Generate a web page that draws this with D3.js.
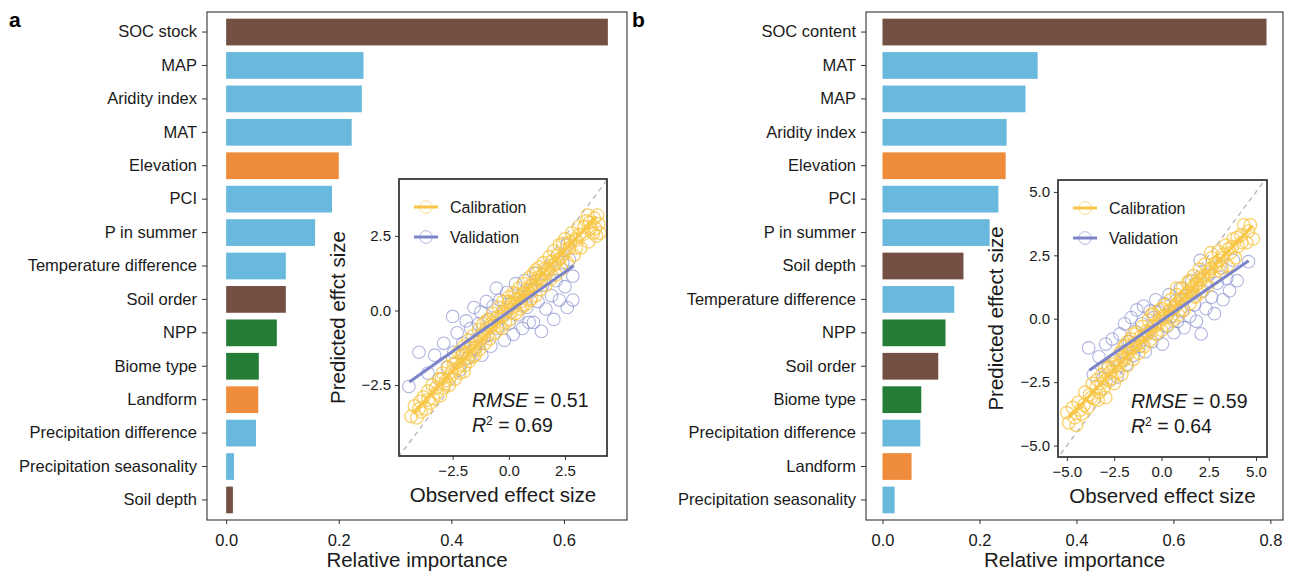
<!DOCTYPE html>
<html>
<head>
<meta charset="utf-8">
<script src="https://cdn.jsdelivr.net/npm/d3@7"></script>
<style>
  body { margin: 0; background: #fff; }
  svg { font-family: "Liberation Sans", Arial, Helvetica, sans-serif; }
</style>
</head>
<body>
<svg id="chart" width="1298" height="573"></svg>
<script>
// ---- data ----
const namesA = ["SOC stock", "MAP", "Aridity index", "MAT", "Elevation", "PCI", "P in summer",
  "Temperature difference", "Soil order", "NPP", "Biome type", "Landform",
  "Precipitation difference", "Precipitation seasonality", "Soil depth"];
const valuesA = [0.678, 0.244, 0.241, 0.223, 0.200, 0.188, 0.158, 0.106, 0.106, 0.090, 0.058, 0.057, 0.053, 0.014, 0.012];
const groupsA = ["soil", "climate", "climate", "climate", "topo", "climate", "climate",
  "climate", "soil", "veg", "veg", "topo", "climate", "climate", "soil"];

const namesB = ["SOC content", "MAT", "MAP", "Aridity index", "Elevation", "PCI", "P in summer",
  "Soil depth", "Temperature difference", "NPP", "Soil order", "Biome type",
  "Precipitation difference", "Landform", "Precipitation seasonality"];
const valuesB = [0.792, 0.320, 0.295, 0.256, 0.254, 0.239, 0.221, 0.167, 0.148, 0.130, 0.115, 0.080, 0.078, 0.060, 0.025];
const groupsB = ["soil", "climate", "climate", "climate", "topo", "climate", "climate",
  "soil", "climate", "veg", "soil", "veg", "climate", "topo", "climate"];

const ticksA = [0, 0.2, 0.4, 0.6];
const ticksB = [0, 0.2, 0.4, 0.6, 0.8];

// observed vs predicted effect size, panel a
const calibA = [[-4.35,-3.55],[-4.2,-3.2],[-4.1,-3.6],[-3.95,-3.05],[-3.9,-3.4],[-3.8,-2.9],[-3.7,-3.3],[-3.6,-2.7],
  [-3.5,-3.1],[-3.4,-2.5],[-3.35,-2.95],[-3.2,-2.75],[-3.1,-2.3],[-3.05,-2.85],[-2.95,-2.1],[-2.9,-2.6],[-2.8,-2.35],
  [-2.7,-1.9],[-2.65,-2.5],[-2.55,-2.05],[-2.5,-1.6],[-2.4,-2.3],[-2.35,-1.75],[-2.25,-1.4],[-2.2,-2.1],[-2.1,-1.55],
  [-2.0,-1.2],[-1.95,-1.85],[-1.9,-1.45],[-1.8,-1.0],[-1.75,-1.7],[-1.65,-1.25],[-1.6,-0.85],[-1.5,-1.5],[-1.45,-1.05],
  [-1.35,-0.65],[-1.3,-1.3],[-1.2,-0.8],[-1.15,-0.45],[-1.05,-1.1],[-1.0,-0.6],[-0.9,-0.3],[-0.85,-0.95],[-0.75,-0.4],
  [-0.7,-0.1],[-0.6,-0.75],[-0.55,-0.25],[-0.45,0.1],[-0.4,-0.55],[-0.3,-0.05],[-0.25,0.3],[-0.15,-0.4],[-0.1,0.1],
  [0.0,0.45],[0.05,-0.3],[0.15,0.25],[0.2,0.6],[0.3,-0.1],[0.35,0.4],[0.45,0.75],[0.5,0.05],[0.6,0.55],[0.65,0.9],
  [0.75,0.2],[0.8,0.7],[0.9,1.1],[0.95,0.35],[1.05,0.85],[1.1,1.25],[1.2,0.5],[1.25,1.0],[1.35,1.45],[1.4,0.7],
  [1.5,1.2],[1.55,1.6],[1.65,0.85],[1.7,1.35],[1.8,1.8],[1.85,1.05],[1.95,1.5],[2.0,2.0],[2.1,1.2],[2.2,1.7],
  [2.25,2.2],[2.35,1.4],[2.45,1.9],[2.5,2.4],[2.6,1.6],[2.7,2.1],[2.8,2.6],[2.9,1.85],[3.0,2.35],[3.1,2.8],
  [3.2,2.1],[3.3,2.55],[3.45,3.0],[3.55,2.3],[3.65,2.75],[3.8,3.1],[3.9,2.5],[4.0,2.9],[3.75,2.6],
  [-3.0,-2.3],[-2.85,-2.45],[-2.6,-2.2],[-2.45,-1.8],[-2.3,-1.95],[-2.15,-1.85],[-2.05,-1.45],[-1.85,-1.6],[-1.7,-1.15],
  [-1.55,-1.35],[-1.4,-1.2],[-1.25,-0.95],[-1.1,-0.75],[-0.95,-0.85],[-0.8,-0.55],[-0.65,-0.45],[-0.5,-0.5],[-0.35,-0.2],
  [-0.2,-0.15],[-0.05,0.0],[0.1,-0.05],[0.25,0.15],[0.4,0.35],[0.55,0.3],[0.7,0.6],[0.85,0.6],[1.0,0.85],[1.15,0.8],
  [1.3,1.1],[1.45,1.05],[1.6,1.4],[1.75,1.3],[1.9,1.65],[2.05,1.55],[2.15,1.85],[2.3,1.75],[2.55,2.05],[2.75,2.3],
  [2.95,2.4],[3.15,2.55],[3.35,2.8],[3.6,2.95],[-3.6,-3.0],[-3.25,-2.6],[-4.0,-3.3],[-1.0,-0.35],[0.3,0.55],[1.2,1.35],
  [-1.6,-1.55],[0.6,0.15],[2.4,2.25],[-2.0,-2.05],[1.0,0.4],[-0.3,-0.6],[0.0,0.3],[3.0,2.1],[3.85,2.75],[3.95,3.2],
  [4.05,2.6],[3.5,3.2]];
const validA = [[-4.45,-2.55],[-4.0,-1.4],[-3.6,-2.1],[-3.3,-1.5],[-3.1,-2.3],[-2.9,-1.1],[-2.75,-1.9],[-2.5,-0.2],
  [-2.45,-1.4],[-2.3,-0.75],[-2.2,-2.0],[-2.05,-1.1],[-1.9,-0.35],[-1.8,-1.6],[-1.7,-0.6],[-1.55,0.1],[-1.5,-1.25],
  [-1.35,-0.45],[-1.25,-0.05],[-1.2,-1.5],[-1.1,-0.9],[-1.0,0.3],[-0.9,-0.3],[-0.8,-1.2],[-0.7,0.15],[-0.55,0.75],
  [-0.5,-0.6],[-0.4,0.35],[-0.3,-0.2],[-0.2,-1.0],[-0.1,0.6],[0.0,-0.45],[0.1,0.2],[0.2,-0.8],[0.3,0.9],[0.4,-0.15],
  [0.5,0.45],[0.6,-0.6],[0.7,1.0],[0.8,0.1],[0.9,-0.4],[1.0,0.7],[1.1,-0.4],[1.2,1.25],[1.3,0.3],[1.45,-0.7],
  [1.5,0.85],[1.65,0.05],[1.75,1.4],[1.9,0.5],[2.0,-0.3],[2.1,1.0],[2.25,0.35],[2.4,1.6],[2.5,0.8],[2.6,0.1],
  [2.7,1.7],[2.85,0.35],[2.85,1.15],[2.6,2.2]];
// fitted lines, [start, end]
const calibFitA = [[-4.26, -3.44], [3.9, 3.15]];
const validFitA = [[-4.43, -2.40], [2.89, 1.50]];

// panel b
const calibB = [[-5.0,-3.7],[-4.9,-4.1],[-4.7,-3.5],[-4.5,-4.2],[-4.4,-3.3],[-4.2,-3.75],[-4.05,-2.9],[-3.9,-3.5],
  [-3.8,-3.0],[-3.65,-2.55],[-3.55,-3.15],[-3.4,-2.4],[-3.3,-2.9],[-3.15,-2.2],[-3.05,-2.75],[-2.95,-3.1],[-2.85,-1.95],
  [-2.75,-2.45],[-2.6,-1.8],[-2.5,-2.55],[-2.4,-1.6],[-2.3,-2.1],[-2.2,-1.35],[-2.1,-2.2],[-2.0,-1.5],[-1.9,-1.05],
  [-1.8,-1.85],[-1.7,-1.2],[-1.6,-0.8],[-1.5,-1.6],[-1.4,-0.95],[-1.3,-0.55],[-1.2,-1.35],[-1.1,-0.7],[-1.0,-0.3],
  [-0.9,-1.1],[-0.8,-0.5],[-0.7,-0.05],[-0.6,-0.85],[-0.5,-0.3],[-0.4,0.15],[-0.3,-0.6],[-0.2,-0.1],[-0.1,0.35],
  [0.0,-0.45],[0.1,0.1],[0.2,0.55],[0.3,-0.25],[0.4,0.3],[0.5,0.75],[0.6,-0.05],[0.7,0.5],[0.8,0.95],[0.9,0.15],
  [1.0,0.75],[1.1,1.2],[1.2,0.35],[1.3,0.95],[1.4,1.45],[1.5,0.6],[1.6,1.15],[1.7,1.7],[1.8,0.85],[1.9,1.4],
  [2.0,1.95],[2.1,1.05],[2.2,1.6],[2.3,2.15],[2.45,1.3],[2.55,1.85],[2.65,2.4],[2.8,1.6],[2.9,2.1],[3.0,2.65],
  [3.15,1.85],[3.25,2.4],[3.4,2.9],[3.5,2.1],[3.65,2.6],[3.8,3.15],[3.9,2.4],[4.05,2.85],[4.2,3.3],[4.35,3.7],
  [4.5,3.0],[4.85,3.15],[4.6,3.45],
  [-4.6,-3.9],[-4.3,-3.6],[-3.7,-3.1],[-3.45,-2.7],[-3.2,-2.55],[-2.9,-2.4],[-2.7,-2.1],[-2.5,-1.9],[-2.3,-1.85],
  [-2.15,-1.65],[-1.95,-1.6],[-1.75,-1.35],[-1.55,-1.15],[-1.35,-1.05],[-1.15,-0.95],[-0.95,-0.7],[-0.75,-0.6],
  [-0.55,-0.5],[-0.35,-0.3],[-0.15,-0.2],[0.05,0.0],[0.25,0.1],[0.45,0.35],[0.65,0.4],[0.85,0.6],[1.05,0.8],
  [1.25,0.9],[1.45,1.05],[1.65,1.25],[1.85,1.35],[2.05,1.55],[2.25,1.7],[2.45,1.85],[2.65,2.0],[2.85,2.2],[3.05,2.3],
  [3.3,2.55],[3.55,2.75],[3.75,2.85],[4.0,3.2],[4.25,3.0],[-3.0,-1.9],[-2.0,-1.1],[-1.0,-1.05],[0.0,0.4],[1.0,0.35],
  [2.0,1.2],[-1.5,-0.6],[0.5,0.05],[1.5,1.5],[2.6,2.6],[-2.6,-2.35],[-0.5,0.2],[3.2,2.0],[-4.1,-3.4],[4.7,3.7],
  [-3.35,-3.2],[0.8,1.2],[-1.8,-0.9],[1.75,0.9]];
const validB = [[-3.85,-1.15],[-3.6,-2.2],[-3.3,-1.5],[-3.1,-2.35],[-2.95,-1.0],[-2.8,-1.9],[-2.6,-0.8],[-2.5,-1.6],
  [-2.35,-2.3],[-2.2,-0.6],[-2.1,-1.3],[-1.95,-0.2],[-1.85,-1.8],[-1.7,-0.9],[-1.6,0.05],[-1.5,-1.45],[-1.4,-0.5],
  [-1.3,0.35],[-1.2,-1.1],[-1.05,-0.2],[-0.95,0.5],[-0.85,-1.3],[-0.7,-0.55],[-0.6,0.3],[-0.5,-0.9],[-0.4,0.05],
  [-0.3,0.75],[-0.2,-0.6],[-0.1,0.25],[0.05,-1.0],[0.15,0.6],[0.3,-0.3],[0.4,0.95],[0.5,0.1],[0.65,-0.55],[0.75,0.7],
  [0.85,-0.1],[1.0,1.2],[1.1,0.3],[1.2,-0.35],[1.35,0.9],[1.5,0.1],[1.6,1.5],[1.75,0.55],[1.85,-0.1],[2.05,2.3],
  [2.1,-0.6],[2.2,1.1],[2.35,0.4],[2.5,1.75],[2.65,0.85],[2.8,0.2],[2.95,1.4],[3.1,2.1],[3.25,0.75],[3.45,1.6],
  [3.6,1.1],[3.8,2.3],[4.0,1.5],[4.6,2.25]];
const calibFitB = [[-4.88, -3.87], [4.82, 3.66]];
const validFitB = [[-3.81, -2.03], [4.61, 2.29]];

const insetTicksA = [-2.5, 0, 2.5];
const insetTicksB = [-5, -2.5, 0, 2.5, 5];

// ---- styles ----
const groupColor = { soil: "#744f43", climate: "#69b8dd", topo: "#ef8c3b", veg: "#257d35" };
const calibColor = "#f8c545";
const validColor = "#7c84c9";
const txt = "#1a1a1a";
const fmt = d3.format(".1f");

const svg = d3.select("#chart");

function drawBars(cfg) {
  const g = svg.append("g");
  const x = d3.scaleLinear().domain(cfg.xDomain).range([cfg.left, cfg.right]);
  // 0.6 step of room at both ends, bars 0.8 of a step
  const y = d3.scaleBand()
    .domain(cfg.names)
    .range([cfg.top, cfg.bottom])
    .paddingInner(0.2).paddingOuter(0.2);

  g.selectAll("rect.bar").data(cfg.names)
    .enter().append("rect")
    .attr("class", "bar")
    .attr("x", x(0))
    .attr("y", d => y(d))
    .attr("width", (d, i) => x(cfg.values[i]) - x(0))
    .attr("height", y.bandwidth())
    .attr("fill", (d, i) => groupColor[cfg.groups[i]]);

  g.append("rect")
    .attr("x", cfg.left).attr("y", cfg.top)
    .attr("width", cfg.right - cfg.left).attr("height", cfg.bottom - cfg.top)
    .attr("fill", "none").attr("stroke", "#333").attr("stroke-width", 1.1);

  const xAxis = g.append("g")
    .attr("transform", `translate(0,${cfg.bottom})`)
    .call(d3.axisBottom(x).tickValues(cfg.ticks).tickFormat(fmt).tickSize(4).tickPadding(10));
  const yAxis = g.append("g")
    .attr("transform", `translate(${cfg.left},0)`)
    .call(d3.axisLeft(y).tickSize(5).tickPadding(5));
  [xAxis, yAxis].forEach(a => {
    a.select(".domain").remove();
    a.selectAll("line").attr("stroke", "#333");
    a.selectAll("text").attr("fill", txt).style("font-size", "16.5px")
      .style("font-family", "'Liberation Sans', Arial, sans-serif");
  });

  g.append("text")
    .attr("x", (cfg.left + cfg.right) / 2).attr("y", 567)
    .attr("text-anchor", "middle").attr("fill", txt)
    .style("font-size", "20.5px").text("Relative importance");

  g.append("text")
    .attr("x", cfg.letterX).attr("y", 27)
    .attr("fill", "#000").style("font-size", "21px").style("font-weight", "bold")
    .text(cfg.letter);
}

function drawInset(cfg) {
  const g = svg.append("g");
  const x = d3.scaleLinear().domain(cfg.xDomain).range([cfg.left, cfg.right]);
  const y = d3.scaleLinear().domain(cfg.yDomain).range([cfg.bottom, cfg.top]);
  const clipId = "clip-" + cfg.id;

  g.append("clipPath").attr("id", clipId).append("rect")
    .attr("x", cfg.left).attr("y", cfg.top)
    .attr("width", cfg.right - cfg.left).attr("height", cfg.bottom - cfg.top);

  g.append("rect")
    .attr("x", cfg.left).attr("y", cfg.top)
    .attr("width", cfg.right - cfg.left).attr("height", cfg.bottom - cfg.top)
    .attr("fill", "#fff");

  const plot = g.append("g").attr("clip-path", `url(#${clipId})`);

  // 1:1 line
  const lo = Math.min(cfg.xDomain[0], cfg.yDomain[0]) - 1;
  const hi = Math.max(cfg.xDomain[1], cfg.yDomain[1]) + 1;
  plot.append("line")
    .attr("x1", x(lo)).attr("y1", y(lo)).attr("x2", x(hi)).attr("y2", y(hi))
    .attr("stroke", "#b5b5b5").attr("stroke-width", 1.3).attr("stroke-dasharray", "5,4");

  plot.selectAll("circle.val").data(cfg.valid).enter().append("circle")
    .attr("class", "val")
    .attr("cx", d => x(d[0])).attr("cy", d => y(d[1])).attr("r", 6.3)
    .attr("fill", "none").attr("stroke", validColor).attr("stroke-opacity", 0.6).attr("stroke-width", 1.1);

  plot.selectAll("circle.cal").data(cfg.calib).enter().append("circle")
    .attr("class", "cal")
    .attr("cx", d => x(d[0])).attr("cy", d => y(d[1])).attr("r", 6.3)
    .attr("fill", "none").attr("stroke", calibColor).attr("stroke-opacity", 0.8).attr("stroke-width", 1.3);

  const line = d3.line().x(d => x(d[0])).y(d => y(d[1]));
  plot.append("path").attr("d", line(cfg.calibFit))
    .attr("stroke", calibColor).attr("stroke-width", 3).attr("fill", "none");
  plot.append("path").attr("d", line(cfg.validFit))
    .attr("stroke", validColor).attr("stroke-width", 3).attr("fill", "none");

  g.append("rect")
    .attr("x", cfg.left).attr("y", cfg.top)
    .attr("width", cfg.right - cfg.left).attr("height", cfg.bottom - cfg.top)
    .attr("fill", "none").attr("stroke", "#3a3a3a").attr("stroke-width", 1.8);

  const xAxis = g.append("g")
    .attr("transform", `translate(0,${cfg.bottom})`)
    .call(d3.axisBottom(x).tickValues(cfg.ticks).tickFormat(fmt).tickSize(4).tickPadding(5));
  const yAxis = g.append("g")
    .attr("transform", `translate(${cfg.left},0)`)
    .call(d3.axisLeft(y).tickValues(cfg.ticks).tickFormat(fmt).tickSize(4).tickPadding(4));
  [xAxis, yAxis].forEach(a => {
    a.select(".domain").remove();
    a.selectAll("line").attr("stroke", "#333");
    a.selectAll("text").attr("fill", txt).style("font-size", "15px")
      .style("font-family", "'Liberation Sans', Arial, sans-serif");
  });

  g.append("text")
    .attr("x", (cfg.left + cfg.right) / 2).attr("y", cfg.bottom + 46)
    .attr("text-anchor", "middle").attr("fill", txt)
    .style("font-size", "20.5px").text("Observed effect size");
  g.append("text")
    .attr("transform", `translate(${cfg.ytitleX},${(cfg.top + cfg.bottom) / 2}) rotate(-90)`)
    .attr("text-anchor", "middle").attr("fill", txt)
    .style("font-size", "20.5px").text(cfg.ytitle);

  // legend
  const legend = [["Calibration", calibColor], ["Validation", validColor]];
  legend.forEach((d, i) => {
    const ly = cfg.top + 28 + i * 30;
    const lx = cfg.left + 15;
    g.append("line").attr("x1", lx).attr("x2", lx + 24).attr("y1", ly).attr("y2", ly)
      .attr("stroke", d[1]).attr("stroke-width", 3);
    g.append("circle").attr("cx", lx + 12).attr("cy", ly).attr("r", 6.3)
      .attr("fill", "none").attr("stroke", d[1]).attr("stroke-opacity", 0.6);
    g.append("text").attr("x", lx + 36).attr("y", ly + 5.5).attr("fill", txt)
      .style("font-size", "16px").text(d[0]);
  });

  // stats
  const t1 = g.append("text").attr("x", cfg.left + 73).attr("y", cfg.bottom - 49)
    .attr("fill", txt).style("font-size", "19.5px");
  t1.append("tspan").style("font-style", "italic").text("RMSE");
  t1.append("tspan").text(" = " + cfg.rmse);
  const t2 = g.append("text").attr("x", cfg.left + 73).attr("y", cfg.bottom - 24)
    .attr("fill", txt).style("font-size", "19.5px");
  t2.append("tspan").style("font-style", "italic").text("R");
  t2.append("tspan").attr("dy", -7).style("font-size", "12px").text("2");
  t2.append("tspan").attr("dy", 7).text(" = " + cfg.r2);
}

drawBars({ names: namesA, values: valuesA, groups: groupsA, ticks: ticksA,
  xDomain: [-0.034, 0.712], left: 207, right: 627, top: 12, bottom: 520, letter: "a", letterX: 9 });
drawBars({ names: namesB, values: valuesB, groups: groupsB, ticks: ticksB,
  xDomain: [-0.034, 0.826], left: 866, right: 1283, top: 12, bottom: 520, letter: "b", letterX: 632 });

drawInset({ id: "a", calib: calibA, valid: validA, calibFit: calibFitA, validFit: validFitA,
  ticks: insetTicksA, xDomain: [-4.89, 4.37], yDomain: [-4.88, 4.41],
  left: 399, right: 607, top: 179, bottom: 456, ytitle: "Predicted effct size", ytitleX: 345,
  rmse: "0.51", r2: "0.69" });
drawInset({ id: "b", calib: calibB, valid: validB, calibFit: calibFitB, validFit: validFitB,
  ticks: insetTicksB, xDomain: [-5.47, 5.58], yDomain: [-5.45, 5.47],
  left: 1058, right: 1267, top: 180, bottom: 457, ytitle: "Predicted effect size", ytitleX: 1003,
  rmse: "0.59", r2: "0.64" });
</script>
</body>
</html>
